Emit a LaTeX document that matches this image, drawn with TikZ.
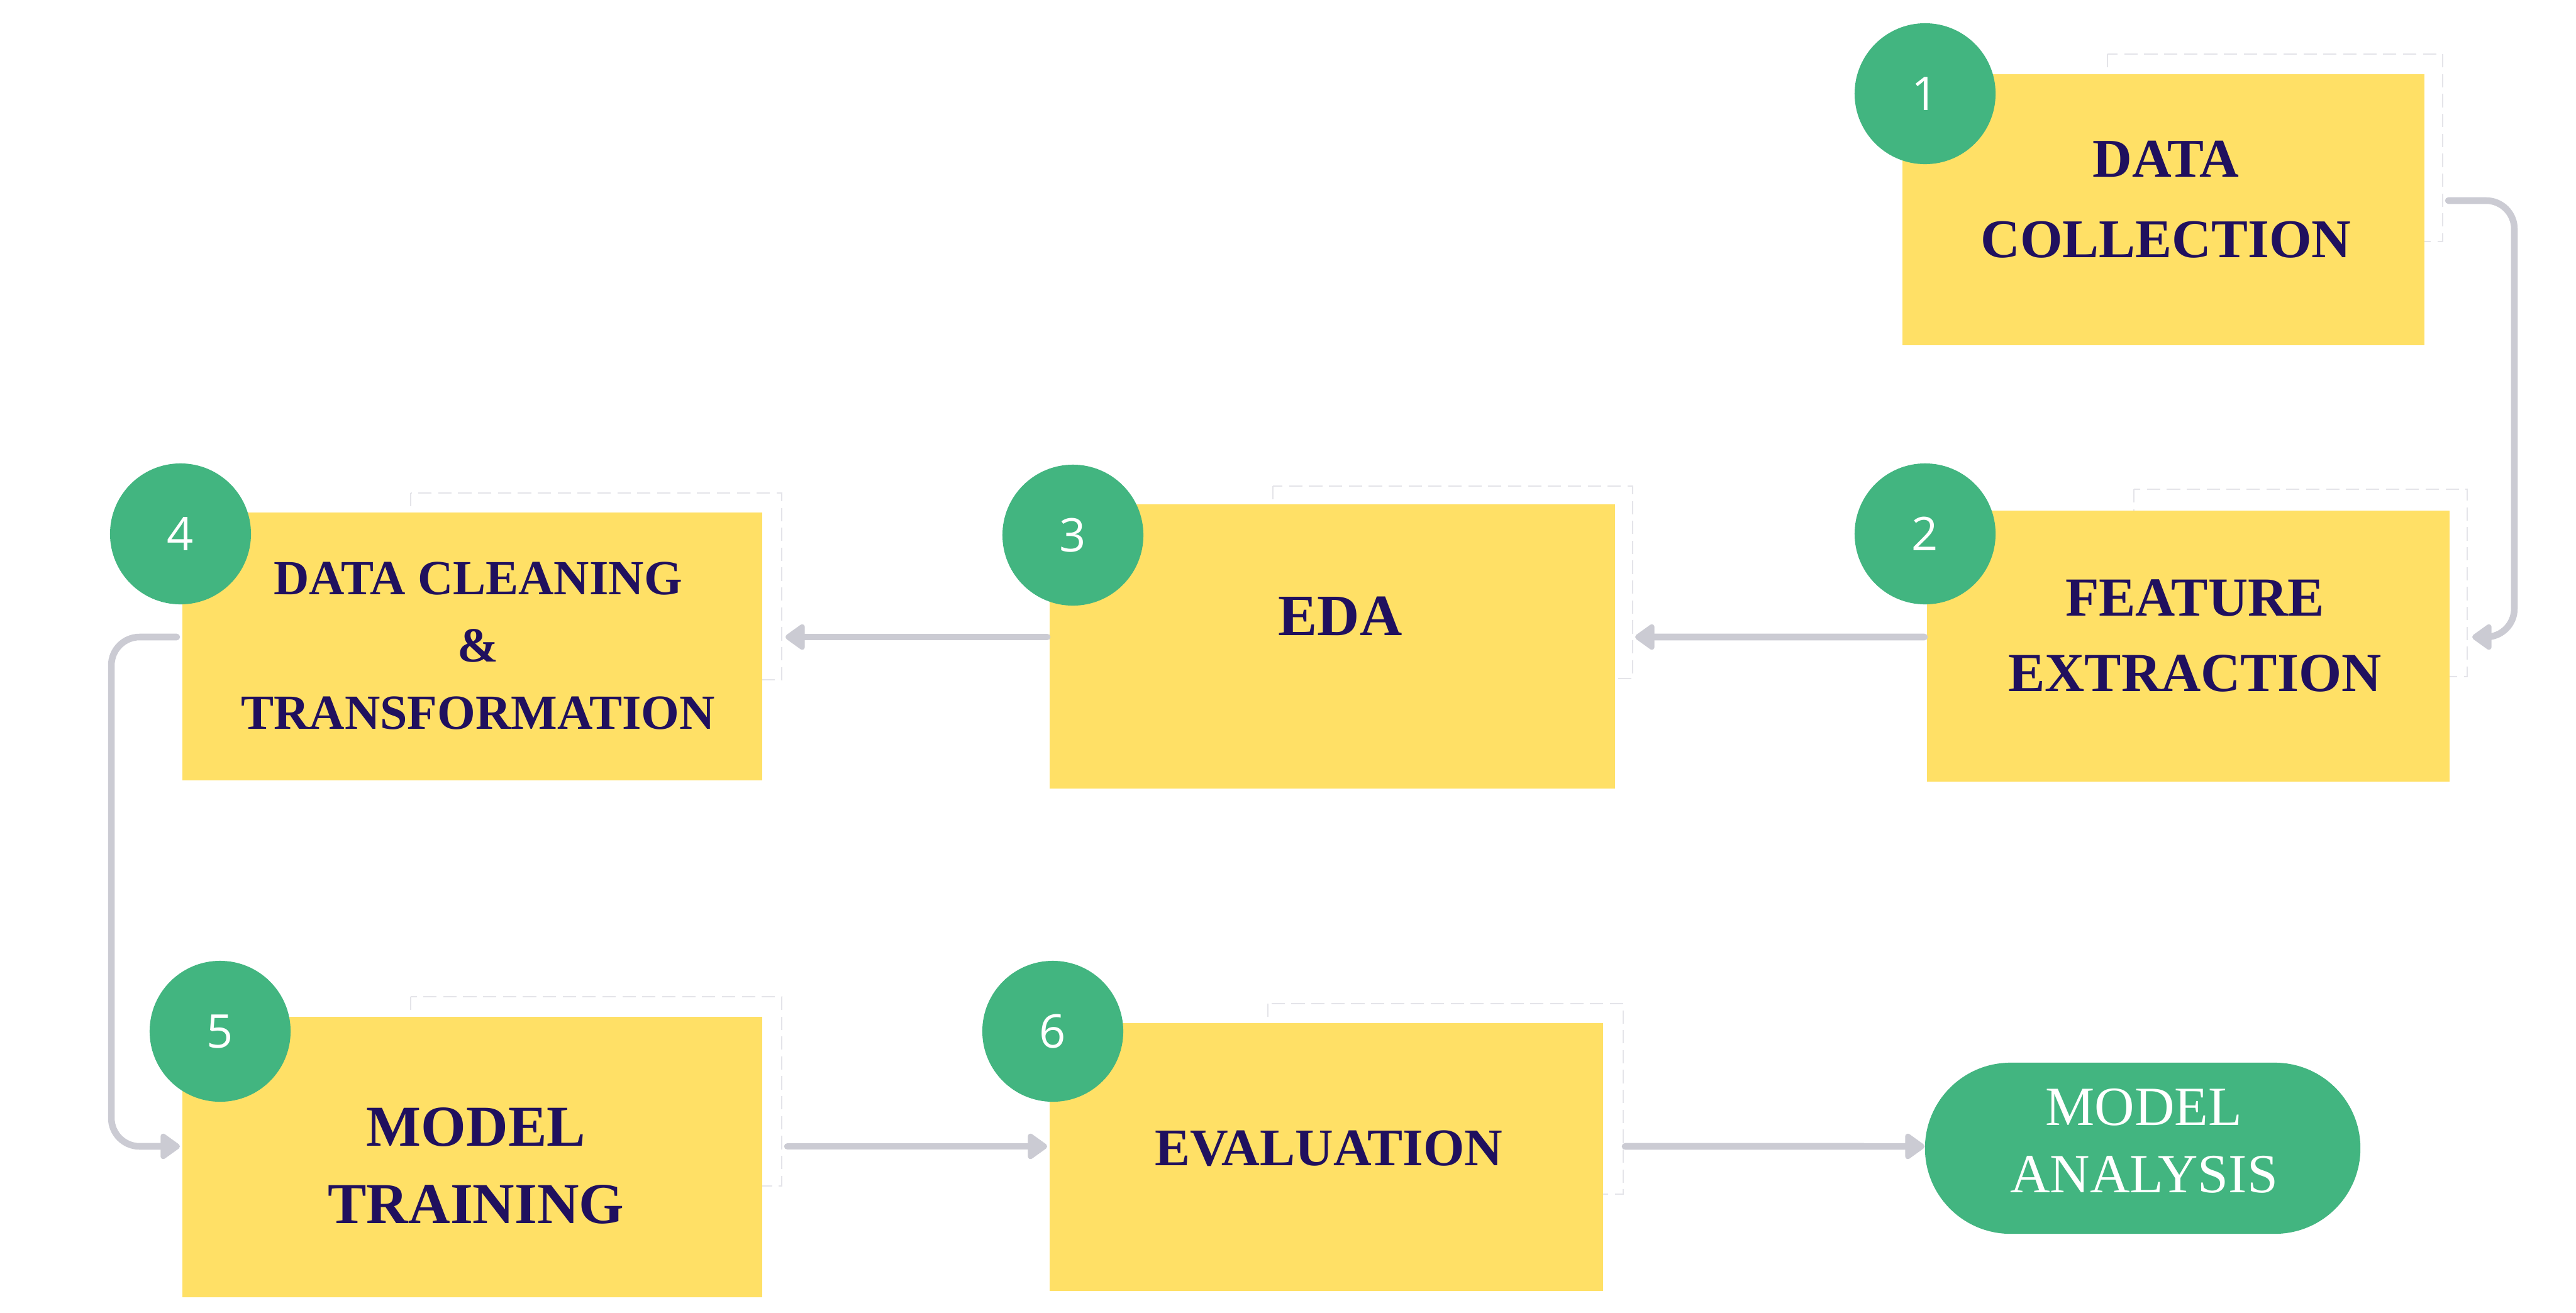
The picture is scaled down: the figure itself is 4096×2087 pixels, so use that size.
\documentclass[tikz,border=0pt]{standalone}
\usepackage{fontspec}
\setmainfont{Liberation Serif}
\newfontfamily\numfont{Open Sans}
\usetikzlibrary{arrows.meta,calc}
\definecolor{boxyellow}{HTML}{FFE066}
\definecolor{stepgreen}{HTML}{42B580}
\definecolor{inkblue}{HTML}{20105E}
\definecolor{arrowgray}{HTML}{CBCBD3}
\definecolor{ghostgray}{HTML}{E4E4E9}
\begin{document}
\begin{tikzpicture}[x=0.01cm,y=-0.01cm,
 stepbox/.style={fill=boxyellow, inner sep=0, draw=none},
 stepnum/.style={circle, fill=stepgreen, minimum size=2.24cm, inner sep=0, text=white, font=\numfont\fontsize{21}{21}\selectfont},
 ghost/.style={draw=ghostgray, line width=0.6pt, dash pattern=on 6pt off 3pt},
 lbl/.style={text=inkblue, align=center, inner sep=0},
 arr/.style={draw=arrowgray, line width=3pt, line cap=round, rounded corners=0.45cm, -{Triangle[round,length=0.34cm,width=0.46cm]}},
 endpill/.style={fill=stepgreen, rounded corners=1.36cm, minimum width=6.92cm, minimum height=2.72cm, inner sep=0, text=white, align=center}
]
\fill[white] (0,0) rectangle (4096,2087);
\useasboundingbox (0,0) rectangle (4096,2087);

% faint dashed outlines behind the boxes
\draw[ghost] (3351,86) rectangle (3884,384);
\draw[ghost] (3393,778) rectangle (3923,1076);
\draw[ghost] (2024,773) rectangle (2596,1079);
\draw[ghost] (653,784) rectangle (1243,1081);
\draw[ghost] (653,1585) rectangle (1243,1886);
\draw[ghost] (2016,1596) rectangle (2581,1899);

% boxes
\node[stepbox, minimum width=8.30cm, minimum height=4.31cm] (b1) at (3440,333.5) {};
\node[stepbox, minimum width=8.31cm, minimum height=4.31cm] (b2) at (3479.5,1027.5) {};
\node[stepbox, minimum width=8.99cm, minimum height=4.52cm] (b3) at (2118.5,1028) {};
\node[stepbox, minimum width=9.22cm, minimum height=4.26cm] (b4) at (751,1028) {};
\node[stepbox, minimum width=9.22cm, minimum height=4.46cm] (b5) at (751,1840) {};
\node[stepbox, minimum width=8.80cm, minimum height=4.26cm] (b6) at (2109,1840) {};
\node[endpill] (ma) at (3407,1826) {};

% labels
\node[lbl, font=\bfseries\fontsize{24.7}{36.4}\selectfont] (t1) at (3444,317) {DATA\\COLLECTION};
\node[lbl, font=\bfseries\fontsize{24.9}{34.1}\selectfont] (t2) at (3490,1011) {FEATURE\\EXTRACTION};
\node[lbl, font=\bfseries\fontsize{26.5}{30}\selectfont] (t3) at (2131,980) {EDA};
\node[lbl, font=\bfseries\fontsize{22.2}{30.4}\selectfont] (t4) at (760,1027) {DATA CLEANING\\\&\\TRANSFORMATION};
\node[lbl, font=\bfseries\fontsize{26.2}{35}\selectfont] (t5) at (757,1853.5) {MODEL\\TRAINING};
\node[lbl, font=\bfseries\fontsize{23.9}{30}\selectfont] (t6) at (2113,1826) {EVALUATION};
\node[lbl, text=white, font=\fontsize{25}{30.4}\selectfont] (tma) at (3409,1814.5) {MODEL\\ANALYSIS};

% step numbers
\node[stepnum] (c1) at (3061,149) {1};
\node[stepnum] (c2) at (3061,849) {2};
\node[stepnum] (c3) at (1706,851) {3};
\node[stepnum] (c4) at (287,849) {4};
\node[stepnum] (c5) at (350,1640) {5};
\node[stepnum] (c6) at (1674,1640) {6};

% connectors
\draw[arr] ([xshift=0.37cm,yshift=0.145cm]b1.east) -- ++(105,0) |- ([xshift=0.35cm,yshift=0.145cm]b2.east);
\draw[arr] ([xshift=-0.03cm,yshift=0.145cm]b2.west) -- ([xshift=0.31cm,yshift=0.15cm]b3.east);
\draw[arr] ([xshift=-0.03cm,yshift=0.15cm]b3.west) -- ([xshift=0.36cm,yshift=0.15cm]b4.east);
\draw[arr] ([xshift=-0.08cm,yshift=0.15cm]b4.west) -- ++(-104,0) |- ([xshift=-0.03cm,yshift=0.17cm]b5.west);
\draw[arr] ([xshift=0.39cm,yshift=0.17cm]b5.east) -- ([xshift=-0.03cm,yshift=0.17cm]b6.west);
\draw[arr] ([xshift=0.34cm,yshift=0.17cm]b6.east) -- ([yshift=0.03cm]ma.west);
\end{tikzpicture}
\end{document}
